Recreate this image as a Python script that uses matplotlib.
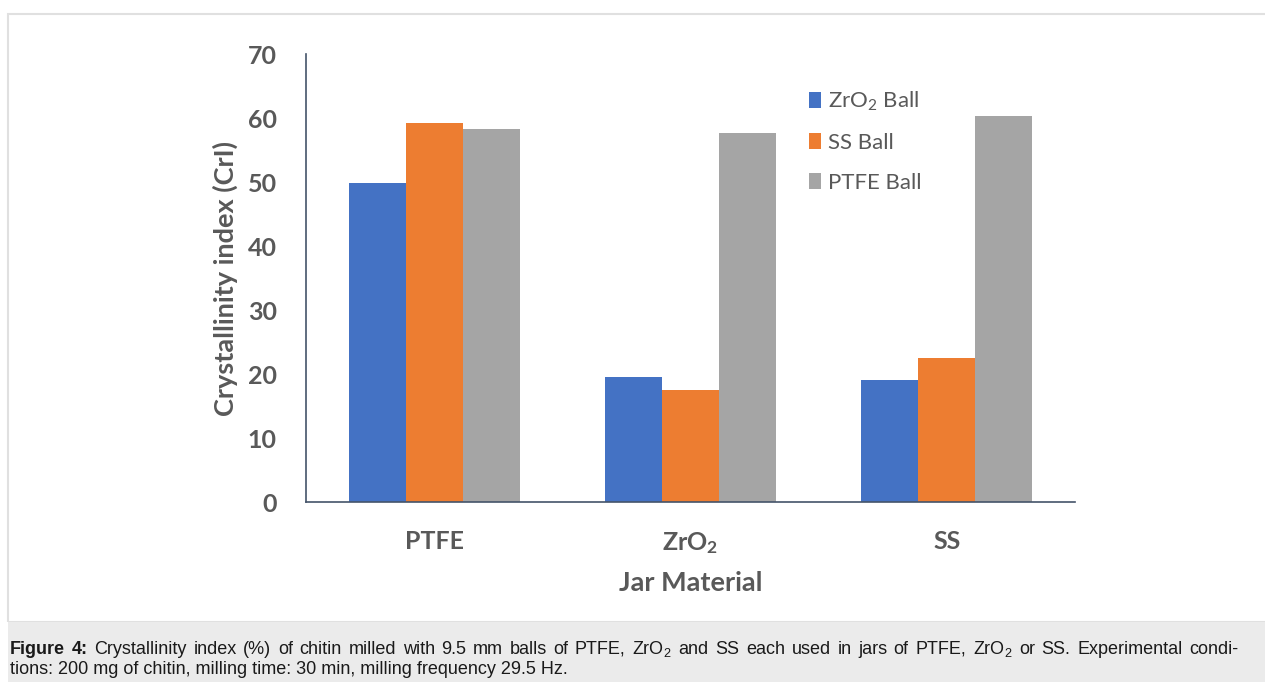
import matplotlib
matplotlib.use("Agg")
import matplotlib.pyplot as plt
import numpy as np
from matplotlib.patches import Rectangle, Patch

# data
jars = ["PTFE", r"$\mathregular{ZrO_2}$", "SS"]
ball_labels = [r"$\mathregular{ZrO_2}$ Ball", "SS Ball", "PTFE Ball"]
zro2_ball = [49.8, 19.5, 19.1]
ss_ball = [59.2, 17.5, 22.5]
ptfe_ball = [58.3, 57.7, 60.3]
colors = ["#4472c4", "#ed7d31", "#a5a5a5"]
yticks = [0, 10, 20, 30, 40, 50, 60, 70]

caption_1 = (r"Crystallinity index (%) of chitin milled with 9.5 mm balls of PTFE, $\mathregular{ZrO_2}$ and SS "
             r"each used in jars of PTFE, $\mathregular{ZrO_2}$ or SS. Experimental condi-")
caption_2 = "tions: 200 mg of chitin, milling time: 30 min, milling frequency 29.5 Hz."

W, H = 1265, 682
fig = plt.figure(figsize=(W / 100, H / 100), dpi=100)
fig.patch.set_facecolor("white")

# outer frame and caption band
fig.add_artist(Rectangle((8 / W, 1 - 622 / H), 1.0, (622 - 14) / H, transform=fig.transFigure,
                         facecolor="none", edgecolor="#e0e0e0", lw=1.5))
fig.add_artist(Rectangle((8 / W, 0), 1.0, (H - 622) / H, transform=fig.transFigure,
                         facecolor="#ebebeb", edgecolor="none"))

ax = fig.add_axes([306 / W, (H - 502) / H, 769 / W, 448 / H])
x = np.arange(len(jars))
bw = 0.222
series = [zro2_ball, ss_ball, ptfe_ball]
for i, vals in enumerate(series):
    ax.bar(x + (i - 1) * bw, vals, width=bw, color=colors[i], zorder=2)

txt_col = "#595959"
ax.set_xlim(-0.5, 2.5)
ax.set_ylim(0, 70)
ax.set_yticks(yticks)
ax.set_xticks(x)
ax.set_xticklabels(jars, fontfamily="Lato", fontweight="bold", fontsize=18, color=txt_col)
ax.set_yticklabels([str(t) for t in yticks], fontfamily="Lato", fontweight="bold",
                   fontsize=18, color=txt_col)
ax.tick_params(length=0, pad=21, axis="y")
ax.tick_params(length=0, pad=20, axis="x")
for s in ["top", "right"]:
    ax.spines[s].set_visible(False)
for s in ["left", "bottom"]:
    ax.spines[s].set_color("#44546a")
    ax.spines[s].set_linewidth(1.2)

ax.set_ylabel("Crystallinity index (CrI)", fontfamily="Lato", fontweight="bold",
              fontsize=19.5, color=txt_col, labelpad=7)
ax.set_xlabel("Jar Material", fontfamily="Lato", fontweight="bold",
              fontsize=19.5, color=txt_col, labelpad=11)

handles = [Patch(facecolor=c, edgecolor="none") for c in colors]
leg = ax.legend(handles, ball_labels, loc="upper left", bbox_to_anchor=(0.628, 0.965),
                frameon=False, handlelength=0.55, handleheight=0.75, handletextpad=0.3,
                labelspacing=0.9, prop={"family": "Lato", "size": 16})
for t in leg.get_texts():
    t.set_color(txt_col)

# caption, first line justified like the journal layout
cap_font = "Liberation Sans"
cap_size = 13
cap_col = "#1a1a1a"
left_px, right_px = 10, 1238
y1 = 1 - 654 / H
y2 = 1 - 674 / H

fig.canvas.draw()
renderer = fig.canvas.get_renderer()
words = [("Figure", "bold"), ("4:", "bold")]
words += [(w, "normal") for w in caption_1.replace("$\\mathregular{ZrO_2}$", "ZRO2TOKEN").split(" ")]
words = [(w.replace("ZRO2TOKEN", r"$\mathregular{ZrO_2}$"), wt) for w, wt in words]
arts = []
for w, wt in words:
    t = fig.text(0, y1, w, fontfamily=cap_font, fontweight=wt, fontsize=cap_size,
                 va="baseline", ha="left", color=cap_col)
    arts.append(t)
widths = [t.get_window_extent(renderer).width for t in arts]
gap = (right_px - left_px - sum(widths)) / (len(arts) - 1)
xpos = left_px
for t, wd in zip(arts, widths):
    t.set_x(xpos / W)
    xpos += wd + gap

fig.text(left_px / W, y2, caption_2, fontfamily=cap_font, fontsize=cap_size,
         va="baseline", ha="left", color=cap_col)

fig.savefig("out.png", dpi=100)
